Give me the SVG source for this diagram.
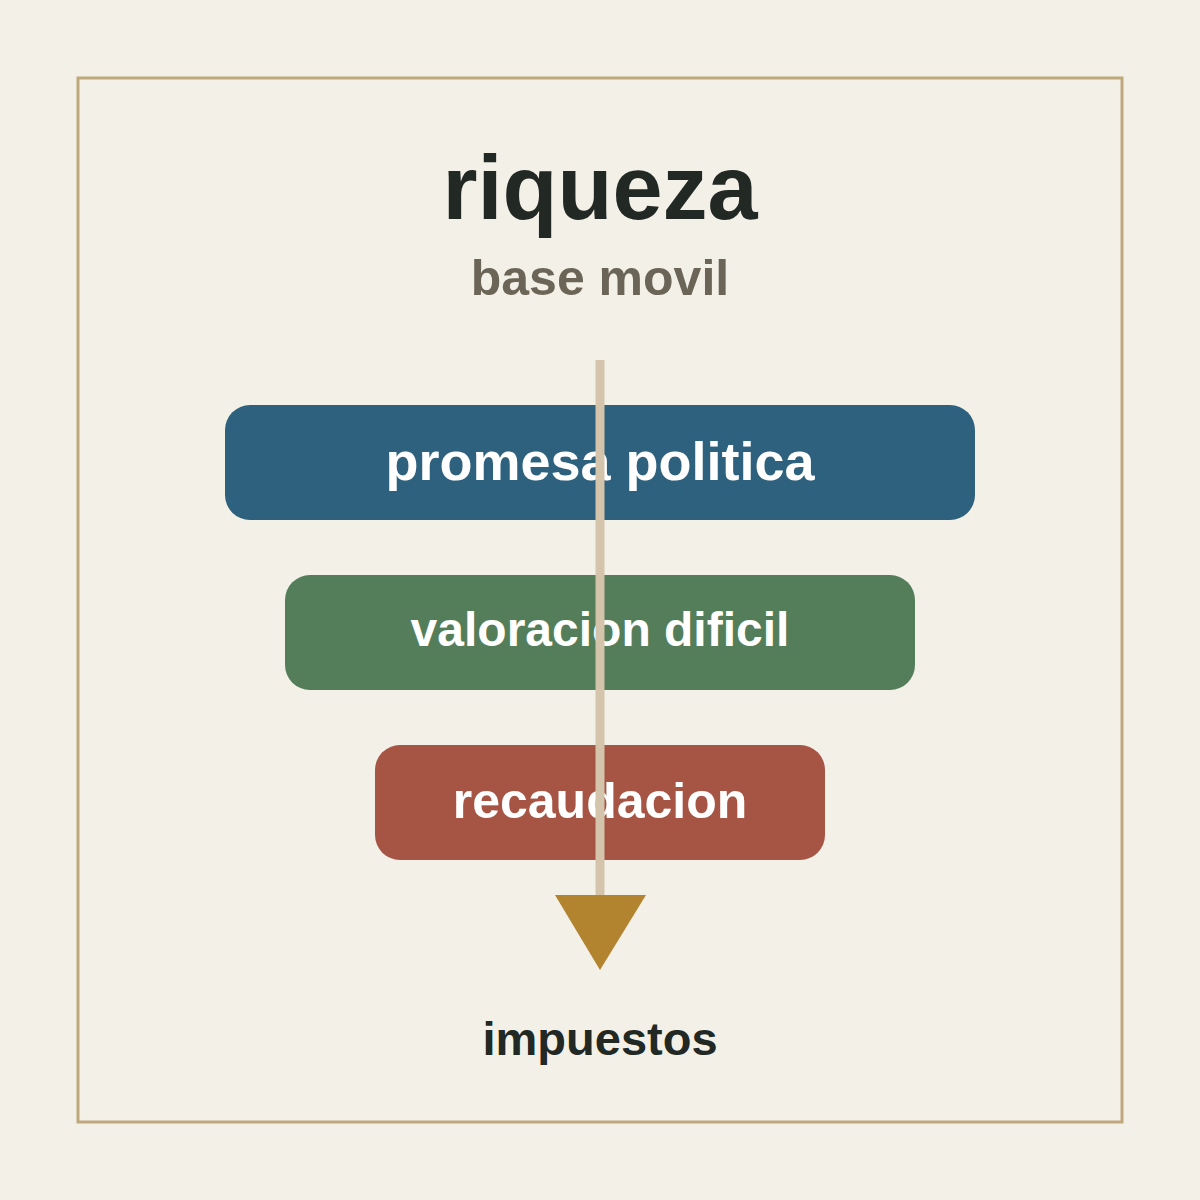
<svg xmlns="http://www.w3.org/2000/svg" width="1200" height="1200" viewBox="0 0 1200 1200">
<style>
.t{font-family:"Liberation Sans",Arial,sans-serif;font-weight:bold;text-anchor:middle}
.w{fill:#ffffff}
</style>
<rect x="0" y="0" width="1200" height="1200" fill="#F3F0E8"/>
<rect x="78" y="78" width="1044" height="1044" fill="none" stroke="#BFA97C" stroke-width="3"/>
<g id="title">
<text class="t" x="600" y="219" font-size="90" fill="#222823">riqueza</text>
<text class="t" x="600" y="295" font-size="50" fill="#6B6558">base movil</text>
</g>
<g id="node-promesa">
<rect x="225" y="405" width="750" height="115" rx="25" fill="#2E617D"/>
<text class="t w" x="600" y="480" font-size="54">promesa politica</text>
</g>
<g id="node-valoracion">
<rect x="285" y="575" width="630" height="115" rx="25" fill="#547D5A"/>
<text class="t w" x="600" y="646" font-size="48">valoracion dificil</text>
</g>
<g id="node-recaudacion">
<rect x="375" y="745" width="450" height="115" rx="25" fill="#A65544"/>
<text class="t w" x="600" y="818" font-size="50">recaudacion</text>
</g>
<g id="connectors">
<line x1="600" y1="360" x2="600" y2="896" stroke="#D3C4AB" stroke-width="9"/>
<polygon points="555,895 646,895 600,970" fill="#B38430"/>
</g>
<g id="label-impuestos">
<text class="t" x="600" y="1055" font-size="47" fill="#222823">impuestos</text>
</g>
</svg>
